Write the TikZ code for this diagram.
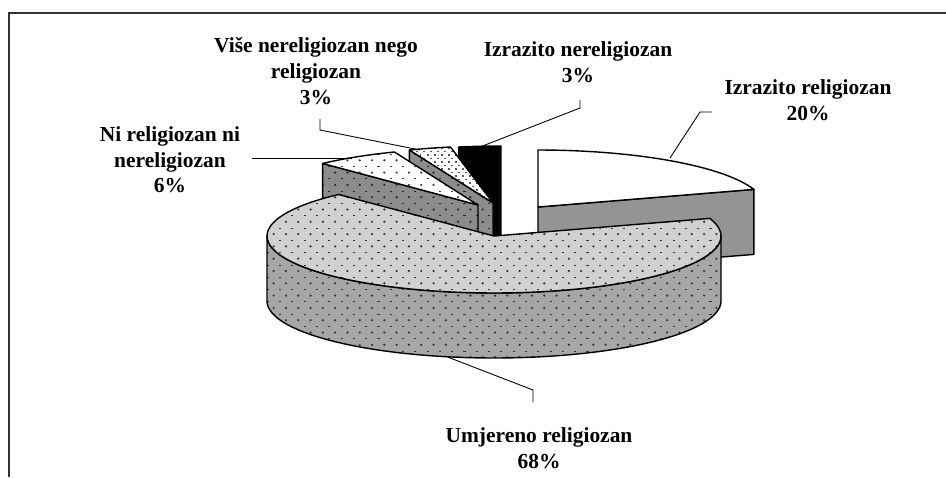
\documentclass[tikz,border=0pt]{standalone}
\usepackage{fontspec}
\setmainfont{Liberation Serif}
\usetikzlibrary{patterns.meta}

\tikzdeclarepattern{
  name=sparsedots,
  type=uncolored,
  bottom left={(-.1pt,-.1pt)},
  top right={(7.1pt,7.1pt)},
  tile size={(7pt,7pt)},
  code={
    \tikzset{x=1pt,y=1pt}
    \path[fill] (1.75,5.25) circle [radius=.7];
    \path[fill] (4.8,1.6) rectangle (6,1.9);
  }
}
\tikzdeclarepattern{
  name=densedots,
  type=uncolored,
  bottom left={(-.1pt,-.1pt)},
  top right={(4.1pt,4.1pt)},
  tile size={(4pt,4pt)},
  code={
    \tikzset{x=1pt,y=1pt}
    \path[fill] (0.8,0.9) rectangle (2,1.7);
    \path[fill] (2.8,2.9) rectangle (3.9,3.7);
  }
}

\begin{document}
\begin{tikzpicture}[x=0.02cm,y=-0.02cm,
    edge/.style={draw=black,line width=0.8pt,line join=round},
    conn/.style={draw=black,line width=0.5pt},
    lbl/.style={font=\bfseries\fontsize{12.2}{14.6}\selectfont,align=center,inner sep=0pt},
    maintop/.style={edge,preaction={fill=black!18},pattern=sparsedots,pattern color=black!80},
    mainwall/.style={edge,preaction={fill=black!35},pattern=sparsedots,pattern color=black!80},
    greycut/.style={edge,preaction={fill=black!45},pattern=sparsedots,pattern color=black!85},
    whitetop/.style={edge,preaction={fill=white},pattern=sparsedots,pattern color=black!75},
    densetop/.style={edge,preaction={fill=white},pattern=densedots,pattern color=black!65}]
    \useasboundingbox (0,0) rectangle (946,477);
    % frame
    \draw[line width=1pt,black!80] (9,477) -- (9,13) -- (946,13);

    % Izrazito religiozan 20%
    \coordinate (W) at (538,207);
    \draw[edge,fill=black!42] (W) -- ({538+227*cos(18)},{207-57*sin(18)}) -- ++(0,65) -- (538,272) -- cycle;
    \draw[edge,fill=white] (W) -- plot[domain=18:90,samples=30] ({538+227*cos(\x)},{207-57*sin(\x)}) -- cycle;

    % Izrazito nereligiozan 3%
    \coordinate (B) at (501,203);
    \draw[edge,fill=black] (B) -- plot[domain=90:100.8,samples=8] ({501+227*cos(\x)},{203-57*sin(\x)}) -- ++(0,65) -- (501,268) -- cycle;

    % Vise nereligiozan nego religiozan 3%
    \coordinate (V) at (493,203);
    \draw[greycut] (V) -- ({493+227*cos(111.6)},{203-57*sin(111.6)}) -- ++(0,65) -- (493,268) -- cycle;
    \draw[densetop] (V) -- plot[domain=100.8:111.6,samples=8] ({493+227*cos(\x)},{203-57*sin(\x)}) -- cycle;

    % Ni religiozan ni nereligiozan 6%
    \coordinate (N) at (478,205);
    \draw[greycut] (N) -- ({478+227*cos(133.2)},{205-57*sin(133.2)}) -- ++(0,65) -- (478,270) -- cycle;
    \draw[whitetop] (N) -- plot[domain=111.6:133.2,samples=12] ({478+227*cos(\x)},{205-57*sin(\x)}) -- cycle;

    % Umjereno religiozan 68%
    \coordinate (M) at (494,236);
    \draw[mainwall] plot[domain=180:360,samples=60] ({494+227*cos(\x)},{236-57*sin(\x)})
        -- plot[domain=360:180,samples=60] ({494+227*cos(\x)},{301-57*sin(\x)}) -- cycle;
    \draw[maintop] (M) -- plot[domain=133.2:378,samples=80] ({494+227*cos(\x)},{236-57*sin(\x)}) -- cycle;

    % labels
    \node[lbl] (lvise) at (316,71) {Više nereligiozan nego\\religiozan\\3\%};
    \node[lbl] (linerel) at (578,62) {Izrazito nereligiozan\\3\%};
    \node[lbl] (lizrel) at (808,100) {Izrazito religiozan\\20\%};
    \node[lbl] (lni) at (170,160) {Ni religiozan ni\\nereligiozan\\6\%};
    \node[lbl] (lumj) at (539,448) {Umjereno religiozan\\68\%};

    % leader lines
    \coordinate (cvise) at (320,119);
    \coordinate (evise) at (420,150);
    \coordinate (cinerel) at (580,100);
    \coordinate (einerel) at (480,147);
    \coordinate (cizrel) at (712,112);
    \coordinate (eizrel) at (670,158);
    \coordinate (cni) at (252,158);
    \coordinate (eni) at (352,158);
    \coordinate (cumj) at (533,402);
    \coordinate (eumj) at (445,356);
    \draw[conn] (cvise) -- ++(0,11) -- (evise);
    \draw[conn] (cinerel) -- ++(0,8) -- (einerel);
    \draw[conn] (cizrel) -- ++(-12,0) -- (eizrel);
    \draw[conn] (cni) -- (eni);
    \draw[conn] (cumj) -- ++(0,-12) -- (eumj);
\end{tikzpicture}
\end{document}
